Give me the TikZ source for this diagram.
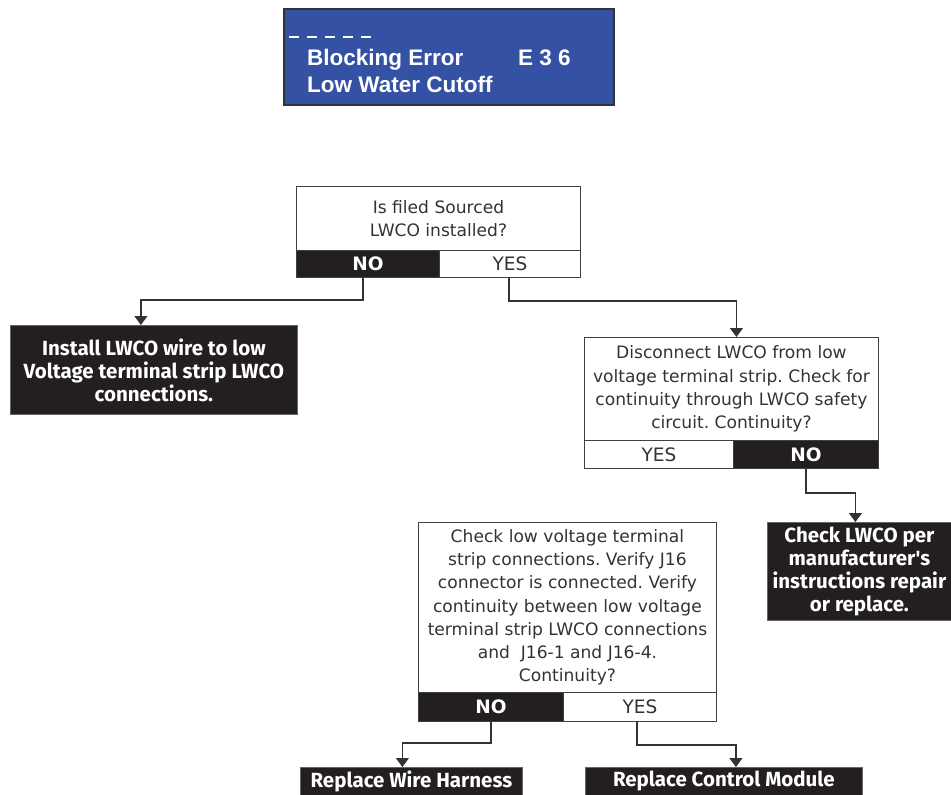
\documentclass[tikz,border=0pt]{standalone}
\usepackage{fontspec}
\setmainfont{DejaVu Sans}
\newfontfamily\boxfont{Fira Sans}
\newfontfamily\dispfont{Liberation Sans}
\usetikzlibrary{arrows.meta,positioning}
\definecolor{dispblue}{HTML}{3451A3}
\definecolor{txtgray}{HTML}{333333}
\definecolor{boxblack}{HTML}{231F20}
\frenchspacing
\tikzset{
  display/.style={draw=black!80, line width=1.5pt, fill=dispblue, inner sep=0pt},
  disptext/.style={text=white, font=\dispfont\bfseries\fontsize{22.5}{26}\selectfont, inner sep=0pt},
  qbox/.style={draw=black!75, line width=0.9pt, fill=white, text=txtgray, align=center, inner sep=0pt,
    font=\frenchspacing\fontsize{17.1}{23.2}\selectfont},
  nocell/.style={draw=black!75, line width=0.9pt, fill=boxblack, text=white, inner sep=0pt,
    font=\bfseries\fontsize{18.5}{20}\selectfont},
  yescell/.style={draw=black!75, line width=0.9pt, fill=white, text=txtgray, inner sep=0pt,
    font=\fontsize{18.5}{20}\selectfont},
  actbox/.style={draw=black!60, line width=0.8pt, fill=boxblack, text=white, align=center, inner sep=0pt,
    font=\boxfont\bfseries\fontsize{20.5}{23}\selectfont},
  arr/.style={draw=txtgray, line width=1.2pt, -{Triangle[width=13pt,length=9pt]}}
}
\begin{document}
\begin{tikzpicture}[x=1pt,y=-1pt]
\useasboundingbox[fill=white] (0,0) rectangle (951,795);
% display
\node[display, minimum width=330pt, minimum height=96pt, anchor=north west] (disp) at (283,8) {};
\draw[white, line width=1.3pt, dash pattern=on 10pt off 8pt] (289,37) -- (378,37);
\node[disptext, anchor=base west] (l1) at (307,65) {Blocking Error};
\node[disptext, anchor=base west] (l1b) at (518,65) {E 3 6};
\node[disptext, anchor=base west] (l2) at (307,92) {Low Water Cutoff};
% decision 1
\node[qbox, minimum width=284pt, minimum height=64pt, anchor=north west] (q1) at (296,186) {Is filed Sourced\\LWCO installed?};
\node[nocell, minimum width=143pt, minimum height=27pt, anchor=north west] (q1no) at (296,250) {NO};
\node[yescell, minimum width=141pt, minimum height=27pt, anchor=north west] (q1yes) at (439,250) {YES};
% action 1
\node[actbox, minimum width=287pt, minimum height=89pt, anchor=north west] (a1) at (10,325) {Install LWCO wire to low\\Voltage terminal strip LWCO\\connections.};
% decision 2
\node[qbox, minimum width=294pt, minimum height=103pt, anchor=north west] (q2) at (584,337) {Disconnect LWCO from low\\voltage terminal strip. Check for\\continuity through LWCO safety\\circuit. Continuity?};
\node[yescell, minimum width=149pt, minimum height=28pt, anchor=north west] (q2yes) at (584,440) {YES};
\node[nocell, minimum width=145pt, minimum height=28pt, anchor=north west] (q2no) at (733,440) {NO};
% action 2
\node[actbox, minimum width=184pt, minimum height=98pt, anchor=north west] (a2) at (767,522) {Check LWCO per\\manufacturer's\\instructions repair\\or replace.};
% decision 3
\node[qbox, minimum width=298pt, minimum height=170pt, anchor=north west] (q3) at (418,522) {Check low voltage terminal\\strip connections. Verify J16\\connector is connected. Verify\\continuity between low voltage\\terminal strip LWCO connections\\and~ J16-1 and J16-4.\\Continuity?};
\node[nocell, minimum width=145pt, minimum height=29pt, anchor=north west] (q3no) at (418,692) {NO};
\node[yescell, minimum width=153pt, minimum height=29pt, anchor=north west] (q3yes) at (563,692) {YES};
% bottom actions
\node[actbox, minimum width=222pt, minimum height=28pt, anchor=north west] (a3) at (300,767) {Replace Wire Harness};
\node[actbox, minimum width=277pt, minimum height=28pt, anchor=north west] (a4) at (585,767) {Replace Control Module};
% connectors
\draw[arr] ([xshift=-5pt]q1no.south) -- ++(0,22) -| ([xshift=-13pt]a1.north);
\draw[arr] ([xshift=-1pt]q1yes.south) -- ++(0,23) -| ([xshift=5pt]q2.north);
\draw[arr] (q2no.south) -- ++(0,24) -| ([xshift=-4pt]a2.north);
\draw[arr] (q3no.south) -- ++(0,21) -| ([xshift=-9pt]a3.north);
\draw[arr] ([xshift=-3pt]q3yes.south) -- ++(0,23) -| ([xshift=12pt]a4.north);
\end{tikzpicture}
\end{document}
